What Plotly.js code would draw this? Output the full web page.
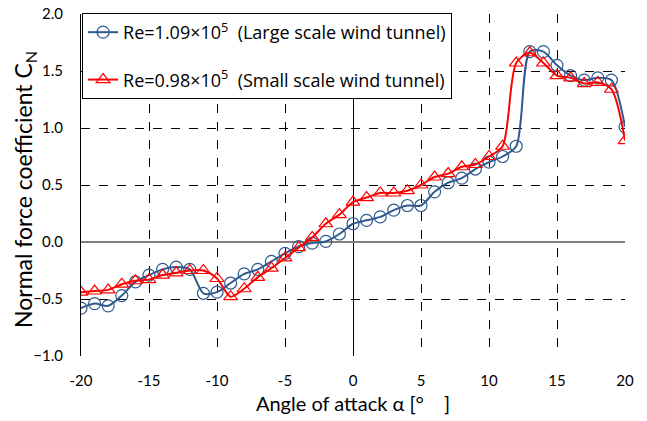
<!DOCTYPE html>
<html>
<head>
<meta charset="utf-8">
<script src="https://cdn.plot.ly/plotly-3.0.1.min.js"></script>
<style>html,body{margin:0;padding:0;background:#fff;}#chart{width:647px;height:421px;}</style>
</head>
<body>
<div id="chart"></div>
<script>
const alpha = [-20,-19,-18,-17,-16,-15,-14,-13,-12,-11,-10,-9,-8,-7,-6,-5,-4,-3,-2,-1,0,1,2,3,4,5,6,7,8,9,10,11,12,13,14,15,16,17,18,19,20];
const cnLarge = [-0.58,-0.54,-0.56,-0.47,-0.35,-0.29,-0.24,-0.22,-0.24,-0.45,-0.44,-0.36,-0.28,-0.24,-0.17,-0.10,-0.04,-0.01,0.005,0.07,0.16,0.19,0.22,0.28,0.32,0.32,0.44,0.52,0.56,0.64,0.70,0.75,0.84,1.67,1.67,1.55,1.46,1.42,1.44,1.42,1.01];
const cnSmall = [-0.44,-0.43,-0.42,-0.37,-0.34,-0.33,-0.29,-0.27,-0.25,-0.25,-0.32,-0.48,-0.41,-0.31,-0.23,-0.14,-0.05,0.04,0.16,0.24,0.35,0.39,0.43,0.43,0.45,0.50,0.57,0.60,0.66,0.68,0.75,0.84,1.57,1.66,1.57,1.46,1.44,1.39,1.40,1.34,0.89];
const nameLarge = "Re=1.09×10<sup>5</sup>  (Large scale wind tunnel)";
const nameSmall = "Re=0.98×10<sup>5</sup>  (Small scale wind tunnel)";
const xTickVals = [-20,-15,-10,-5,0,5,10,15,20];
const yTickVals = [-1.0,-0.5,0.0,0.5,1.0,1.5,2.0];
const xTitle = 'Angle of attack α [°　]';
const yTitle = 'Normal force coefficient C<sub>N</sub>';

const FONT = "Lato, 'Noto Sans', sans-serif";
const LFONT = "'Open Sans', 'Noto Sans', sans-serif";
const traces = [
  {x: alpha, y: cnLarge, name: nameLarge, type: 'scatter', mode: 'lines+markers', legendgroup: 'a',
   line: {color: '#2F5A8F', width: 2, shape: 'spline', smoothing: 0.8},
   marker: {symbol: 'circle-open', size: 12, color: '#2F5A8F', line: {width: 1.2, color: '#2F5A8F'}}},
  {x: alpha, y: cnSmall, name: nameSmall, type: 'scatter', mode: 'lines+markers', legendgroup: 'b',
   line: {color: '#FF0000', width: 2, shape: 'spline', smoothing: 0.8},
   marker: {symbol: 'triangle-up-open', size: 12, color: '#FF0000', line: {width: 1.2, color: '#FF0000'}}}
];
const layout = {
  width: 647, height: 421,
  margin: {l: 81, r: 22, t: 14, b: 65},
  paper_bgcolor: '#fff', plot_bgcolor: '#fff',
  font: {family: FONT, color: '#000', size: 15},
  showlegend: true,
  legend: {x: 0.002, y: 1.003, xanchor: 'left', yanchor: 'top', bgcolor: '#fff', bordercolor: '#000', borderwidth: 1,
           font: {family: LFONT, size: 18, color: '#000'}, traceorder: 'grouped', tracegroupgap: 21},
  xaxis: {range: [-20, 20], tickvals: xTickVals, ticktext: xTickVals.map(String), showgrid: true, gridcolor: '#000', griddash: 'dash', gridwidth: 1,
          zeroline: true, zerolinecolor: '#000', zerolinewidth: 1, showline: false, ticks: '', ticklabelstandoff: 14,
          tickfont: {size: 15}, title: {text: xTitle, font: {size: 20}, standoff: 8}},
  yaxis: {range: [-1, 2], tickvals: yTickVals, tickformat: '.1f', showgrid: true, gridcolor: '#000', griddash: 'dash', gridwidth: 1,
          zeroline: true, zerolinecolor: '#808080', zerolinewidth: 2, showline: true, linecolor: '#000', linewidth: 1, ticks: '', ticklabelstandoff: 14,
          tickfont: {size: 15}},
  annotations: [{text: yTitle, xref: 'paper', yref: 'paper', x: -0.105, y: 0.488, xanchor: 'center', yanchor: 'middle',
                 textangle: -90, showarrow: false, font: {size: 23, family: FONT, color: '#000'}}]
};
Plotly.newPlot('chart', traces, layout, {displayModeBar: false, staticPlot: true});
</script>
</body>
</html>
